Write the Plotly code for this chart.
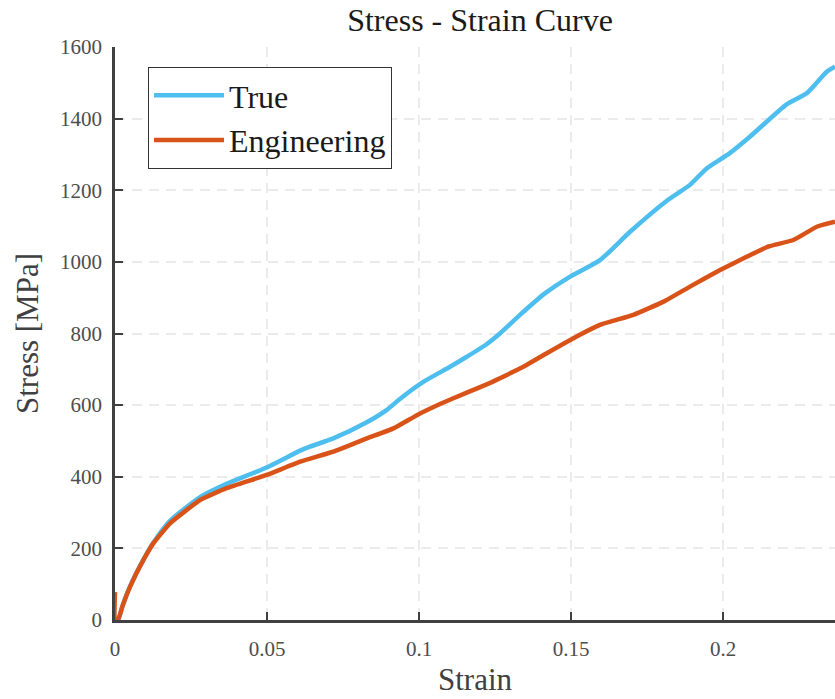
import plotly.graph_objects as go

# ---- data ----
strain_true = [0, 0.001, 0.0025, 0.0049, 0.0093, 0.0126, 0.0181, 0.028, 0.0367, 0.0499,
               0.0609, 0.0641, 0.0718, 0.0828, 0.0893, 0.0938, 0.1014, 0.1102, 0.1157,
               0.1222, 0.1266, 0.1332, 0.1414, 0.1497, 0.1595, 0.1694, 0.1814, 0.1891,
               0.1946, 0.2021, 0.2089, 0.2209, 0.2275, 0.2341, 0.2368]
stress_true = [0, 0, 40, 93, 168, 216, 277, 343, 380, 426,
               473, 484, 507, 552, 586, 618, 665, 707, 735,
               770, 800, 852, 912, 959, 1005, 1084, 1170, 1215,
               1261, 1303, 1350, 1440, 1471, 1531, 1545]

strain_eng = [0, 0, 0.001, 0.0025, 0.0049, 0.0093, 0.0126, 0.0181, 0.028, 0.0367, 0.0499,
              0.0609, 0.0718, 0.0828, 0.0916, 0.0993, 0.1069, 0.1157, 0.1234, 0.1266,
              0.1343, 0.142, 0.1508, 0.1595, 0.1705, 0.1804, 0.1891, 0.199, 0.2077,
              0.215, 0.2231, 0.2308, 0.2368]
stress_eng = [78, 3, 0, 40, 92, 167, 214, 270, 335, 368, 405,
              442, 470, 507, 535, 572, 603, 635, 662, 675,
              707, 745, 787, 824, 852, 889, 931, 977, 1014,
              1043, 1061, 1098, 1112]

x_tickvals = [0, 0.05, 0.1, 0.15, 0.2]
x_ticktext = ["0", "0.05", "0.1", "0.15", "0.2"]
y_tickvals = [0, 200, 400, 600, 800, 1000, 1200, 1400, 1600]

FONT = "Liberation Serif"
AXC = "#404040"

W, H = 835, 699

fig = go.Figure()
fig.add_trace(go.Scatter(x=strain_true, y=stress_true, mode="lines", name="True",
                         line=dict(color="#4DBEEE", width=4.5, shape="spline", smoothing=0.6)))
fig.add_trace(go.Scatter(x=strain_eng, y=stress_eng, mode="lines", name="Engineering",
                         line=dict(color="#D95319", width=4.5, shape="spline", smoothing=0.4)))

axis_common = dict(
    showline=True, linecolor=AXC, linewidth=2.5, mirror=False,
    ticks="inside", ticklen=8, tickwidth=2, tickcolor=AXC,
    showgrid=True, gridcolor="#ebebeb", gridwidth=1.5, griddash="10px,7px",
    zeroline=False, automargin=False,
    tickfont=dict(family=FONT, size=21, color="#4d4d4d"),
)

fig.update_layout(
    width=W, height=H,
    margin=dict(l=115, r=0, t=47, b=79, autoexpand=False),
    paper_bgcolor="white", plot_bgcolor="white",
    title=dict(text="Stress - Strain Curve", x=480 / W, xanchor="center", xref="container",
               y=1 - 20 / H, yanchor="middle", yref="container",
               font=dict(family=FONT, size=32, color="#1a1a1a")),
    xaxis=dict(range=[0, 0.2368], tickvals=x_tickvals, ticktext=x_ticktext,
               title=dict(text="Strain", font=dict(family=FONT, size=31, color="#404040"),
                          standoff=9),
               ticklabelstandoff=8,
               **axis_common),
    yaxis=dict(range=[0, 1600], tickvals=y_tickvals,
               title=dict(text="Stress [MPa]", font=dict(family=FONT, size=31, color="#404040"),
                          standoff=13),
               ticklabelstandoff=6,
               **axis_common),
    legend=dict(x=(148 - 115) / 720, y=(620 - 67) / 573, xanchor="left", yanchor="top",
                bgcolor="white", bordercolor="#333333", borderwidth=1,
                font=dict(family=FONT, size=32, color="#1a1a1a"),
                itemwidth=70, tracegroupgap=0),
    showlegend=True,
)

fig.write_html("out.html", config={"displayModeBar": False},
               post_script="document.body.style.margin='0';document.body.style.padding='0';")
